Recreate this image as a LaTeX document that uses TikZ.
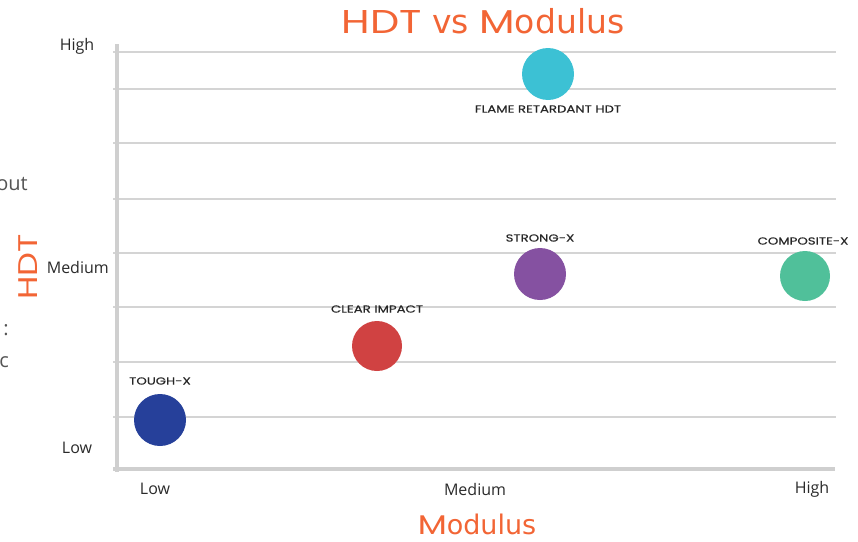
\documentclass[tikz,border=0pt]{standalone}
\usepackage{fontspec}
\setmainfont{Open Sans}
\newfontfamily\popfont{Poppins}
\newfontfamily\popwide[FakeStretch=1.25]{Poppins}
\newfontfamily\labfont[FakeStretch=1.3, FakeBold=0.4]{Poppins}
\newfontfamily\dejafont{DejaVu Sans}
\definecolor{orng}{HTML}{F26535}
\definecolor{gridc}{HTML}{D4D4D4}
\definecolor{axisc}{HTML}{CFCFCF}
\definecolor{tickc}{HTML}{2A2A2A}
\definecolor{fragc}{HTML}{555555}
\definecolor{cblue}{HTML}{26409A}
\definecolor{cred}{HTML}{D04242}
\definecolor{cpurple}{HTML}{8551A1}
\definecolor{cgreen}{HTML}{50C09A}
\definecolor{ccyan}{HTML}{3CC1D4}
\begin{document}
\begin{tikzpicture}[x=1pt,y=-1pt,
  gridline/.style={draw=gridc, line width=1.3pt},
  axisline/.style={draw=axisc, line width=3.2pt},
  ticklab/.style={inner sep=0pt, text=tickc, font=\fontsize{16}{18}\selectfont},
  bubble/.style={circle, inner sep=0pt, minimum size=52pt},
  blabel/.style={inner sep=0pt, text=black!85, font=\labfont\fontsize{10.2}{12}\selectfont},
  fragtxt/.style={inner sep=0pt, text=fragc, font=\fontsize{20}{22}\selectfont}
]
\useasboundingbox (0,0) rectangle (858,541);
% gridlines
\foreach \yy in {52,89,143,199,253,307,362,417}
  \draw[gridline] (113,\yy) -- (836,\yy);
% axes
\coordinate (yaxtop) at (117,44);
\coordinate (yaxbot) at (117,472);
\coordinate (xaxl) at (113,469);
\coordinate (xaxr) at (835,469);
\draw[axisline] (yaxtop) -- (yaxbot);
\draw[axisline] (xaxl) -- (xaxr);
% title
\node[inner sep=0pt, anchor=base, text=orng] (title) at (483,33)
  {\popwide\fontsize{33}{36}\selectfont HDT\dejafont{} vs {\popwide M}odulus};
% axis titles
\node[inner sep=0pt, anchor=base, text=orng, text depth=0pt] (xtitle) at (477,534)
  {{\popwide\fontsize{27}{30}\selectfont M}\dejafont\fontsize{27}{30}\selectfont odulus};
\node[inner sep=0pt, rotate=90, anchor=base, text=orng, text depth=0pt] (ytitle) at (37,267)
  {\popwide\fontsize{27}{30}\selectfont HDT};
% tick labels
\node[ticklab] (yhigh) at (77,46) {High};
\node[ticklab, anchor=east] (ymed) at (109,267) {Medium};
\node[ticklab] (ylow) at (77,448) {Low};
\node[ticklab] (xlow) at (155,489) {Low};
\node[ticklab] (xmed) at (475,489) {Medium};
\node[ticklab] (xhigh) at (812,489) {High};
% fragments of cut-off text
\node[fragtxt, anchor=east] (frag1) at (28,184) {out};
\node[fragtxt, anchor=east] (frag2) at (9,330) {:};
\node[fragtxt, anchor=east] (frag3) at (9,362) {c};
% bubbles
\node[bubble, fill=cblue] (tough) at (160,420) {};
\node[bubble, fill=cred, minimum size=50pt] (clear) at (377,346) {};
\node[bubble, fill=cpurple] (strong) at (540,274) {};
\node[bubble, fill=cgreen, minimum size=50pt] (composite) at (805,276) {};
\node[bubble, fill=ccyan] (flame) at (548,74) {};
% bubble labels
\node[blabel] (toughlab) at (160,381) {TOUGH-X};
\node[blabel] (clearlab) at (377,309) {CLEAR IMPACT};
\node[blabel] (stronglab) at (540,238) {STRONG-X};
\node[blabel] (complab) at (803,241) {COMPOSITE-X};
\node[blabel] (flamelab) at (548,109) {FLAME RETARDANT HDT};
\end{tikzpicture}
\end{document}
